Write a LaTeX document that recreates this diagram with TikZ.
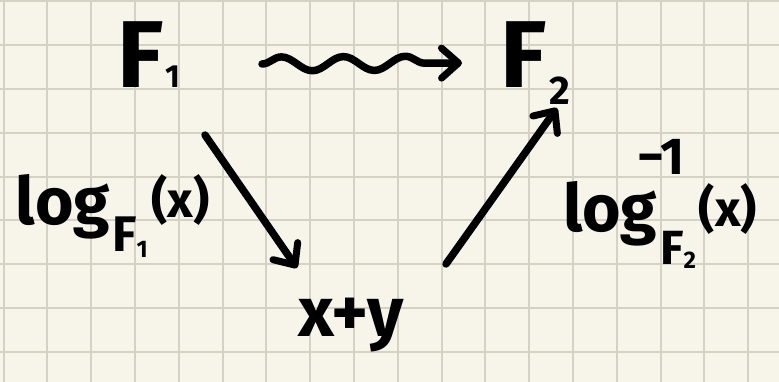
\documentclass[tikz,border=0pt]{standalone}
\usepackage{fontspec}
\setmainfont{Fira Sans}
\usetikzlibrary{decorations.pathmorphing,arrows.meta}
\definecolor{paper}{RGB}{247,245,234}
\definecolor{gridc}{RGB}{214,210,195}
\begin{document}
\begin{tikzpicture}[x=1pt,y=-1pt,
  ink/.style={line width=7.5pt,line cap=round,line join=round,black},
  tip/.style={-{Straight Barb[length=17pt,width=30pt,line width=7pt,round]}},
  hw/.style={inner sep=0pt,outer sep=0pt,anchor=base west},
  gridline/.style={draw=gridc,line width=2pt}]
\useasboundingbox (0,0) rectangle (779,382);
\fill[paper] (0,0) rectangle (779,382);
\foreach \i in {0,...,17} \draw[gridline] (3.5+43.8*\i,0) -- (3.5+43.8*\i,382);
\foreach \j in {0,...,8} \draw[gridline] (0,1.5+43.8*\j) -- (779,1.5+43.8*\j);

\node[hw,font=\fontsize{95}{95}\selectfont\bfseries] (F1) at (117,88)
  {F\kern2pt\raisebox{0pt}{\fontsize{32}{32}\selectfont 1}};
\node[hw,font=\fontsize{95}{95}\selectfont\bfseries] (F2) at (500,88)
  {F\kern3pt\raisebox{-17pt}{\fontsize{40}{40}\selectfont 2}};
\node[hw,font=\fontsize{70}{70}\selectfont\bfseries] (S) at (298,336) {x+y};

\node[hw,font=\fontsize{66}{66}\selectfont\bfseries] (L1) at (16,225)
  {log\kern2pt\raisebox{-27pt}{\fontsize{50}{50}\selectfont F\raisebox{-6pt}{\fontsize{24}{24}\selectfont 1}}\kern4pt\raisebox{7pt}{\fontsize{50}{50}\selectfont (x)}};
\node[hw,font=\fontsize{66}{66}\selectfont\bfseries] (L2) at (563,232)
  {log\rlap{\raisebox{57pt}{\fontsize{52}{52}\selectfont\kern-20pt −1}}\kern3pt\raisebox{-33pt}{\fontsize{48}{48}\selectfont F\raisebox{-4pt}{\fontsize{24}{24}\selectfont 2}}\kern3pt\raisebox{5pt}{\fontsize{50}{50}\selectfont (x)}};

\coordinate (w1) at (262,64);
\coordinate (w2) at (462,63);
\coordinate (a1) at (205,135);
\coordinate (a1e) at (297,268);
\coordinate (a2) at (446,264);
\coordinate (a2e) at (557,108);

\draw[ink,tip,decorate,decoration={snake,amplitude=7pt,segment length=62pt,post length=30pt}] (w1) -- (w2);
\draw[ink,tip] (a1) -- (a1e);
\draw[ink,tip] (a2) -- (a2e);
\end{tikzpicture}
\end{document}
